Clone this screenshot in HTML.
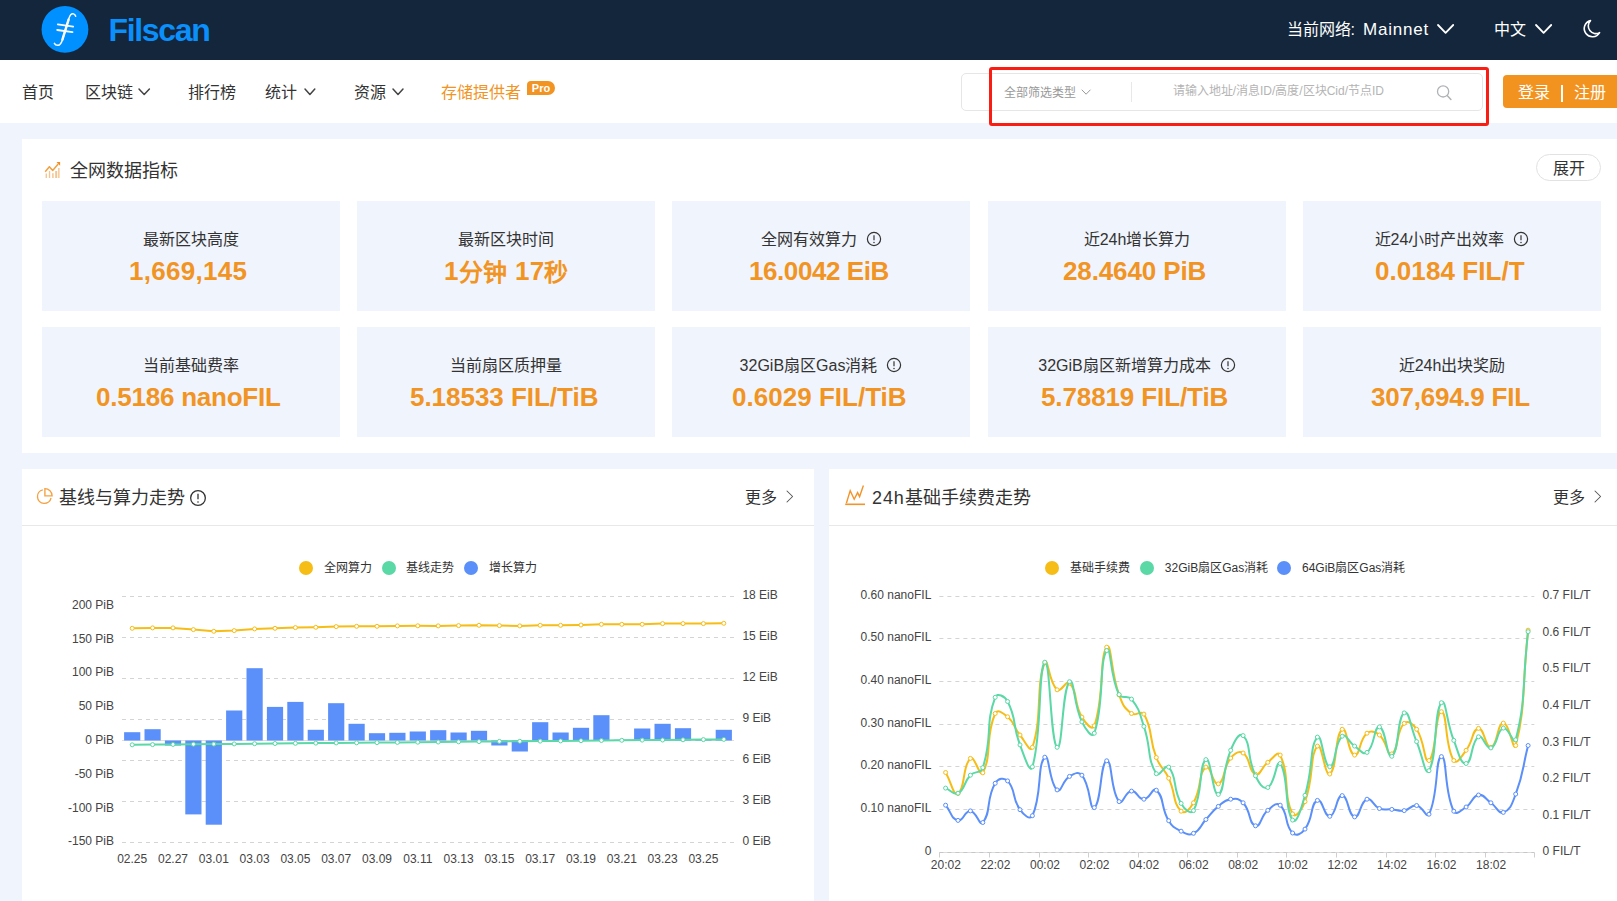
<!DOCTYPE html>
<html lang="zh-CN"><head><meta charset="utf-8"><title>Filscan</title>
<style>
html,body{margin:0;padding:0}
body{width:1617px;height:901px;overflow:hidden;background:#f0f4fc;font-family:"Liberation Sans",sans-serif;position:relative;color:#333}
.a{position:absolute}
.t{position:absolute;white-space:nowrap;line-height:24px;height:24px}
.hdr{position:absolute;left:0;top:0;width:1617px;height:60px;background:#13263c}
.nav{position:absolute;left:0;top:60px;width:1617px;height:63px;background:#fff}
.panel{position:absolute;background:#fff}
.card{position:absolute;background:#f0f4fc;width:298px;height:110px}
.card .lb{position:absolute;left:0;right:0;top:27.1px;height:24px;line-height:24px;font-size:16px;color:#333;display:flex;justify-content:center;align-items:center;white-space:nowrap}
.card .lb svg{margin-left:9px;flex:none;position:relative;top:-1.6px}
.card .v{position:absolute;top:54.4px;height:32px;line-height:32px;font-size:26px;font-weight:bold;color:#f29423;white-space:nowrap}
</style></head><body>
<div class="hdr"></div><svg class="a" style="left:41px;top:5px" width="49" height="49" viewBox="0 0 49 49">
<circle cx="23.96" cy="24.4" r="23.4" fill="#0090ff"/>
<g fill="none" stroke="#fff" stroke-linecap="round">
<path d="M34.7,11.3 C33.9,8.7 31.4,8.0 29.7,9.7 C28.3,11.1 27.8,13.6 27.2,15.8 L21.9,33.2 C20.8,37.2 19.5,40.5 16.7,40.3 C15,40.2 13.9,39.3 13.4,38.3" stroke-width="1.5"/>
<path d="M27.6,14.6 L21.4,34.6" stroke-width="2.4"/>
<path d="M16.8,19.4 L32.2,21.6 M16.2,25.0 L31.5,27.2" stroke-width="1.8"/>
</g></svg><div class="t " style="left:108.5px;top:17.9px;font-size:32px;color:#0a8ffb;font-weight:bold;letter-spacing:-1.33px;">Filscan</div><div class="t " style="left:1286.5px;top:18.0px;font-size:16px;color:#fff;">当前网络:</div><div class="t " style="left:1363.0px;top:18.2px;font-size:17px;color:#fff;letter-spacing:0.77px;">Mainnet</div><svg class="a" style="left:1436.2px;top:23.0px" width="19.2" height="11.8"><path d="M2,2 L9.60,9.80 L17.20,2" fill="none" stroke="#fff" stroke-width="1.8" stroke-linecap="round" stroke-linejoin="round"/></svg><div class="t " style="left:1494.0px;top:18.0px;font-size:16px;color:#fff;">中文</div><svg class="a" style="left:1534.2px;top:23.0px" width="19.2" height="11.8"><path d="M2,2 L9.60,9.80 L17.20,2" fill="none" stroke="#fff" stroke-width="1.8" stroke-linecap="round" stroke-linejoin="round"/></svg><svg class="a" style="left:1580px;top:18px" width="22" height="22" viewBox="0 0 22 22"><path d="M10.5,2.6 A8.2,8.2 0 1 0 19.6,14.6 A7.6,7.6 0 0 1 10.5,2.6 Z" fill="none" stroke="#fff" stroke-width="1.6" stroke-linejoin="round"/></svg><div class="nav"></div><div class="t " style="left:22.0px;top:81.0px;font-size:16px;color:#333;">首页</div><div class="t " style="left:84.5px;top:81.0px;font-size:16px;color:#333;">区块链</div><svg class="a" style="left:137.0px;top:86.8px" width="14.4" height="9.5"><path d="M2,2 L7.20,7.50 L12.40,2" fill="none" stroke="#444" stroke-width="1.5" stroke-linecap="round" stroke-linejoin="round"/></svg><div class="t " style="left:187.6px;top:81.0px;font-size:16px;color:#333;">排行榜</div><div class="t " style="left:265.0px;top:81.0px;font-size:16px;color:#333;">统计</div><svg class="a" style="left:303.0px;top:86.8px" width="13.8" height="9.5"><path d="M2,2 L6.90,7.50 L11.80,2" fill="none" stroke="#444" stroke-width="1.5" stroke-linecap="round" stroke-linejoin="round"/></svg><div class="t " style="left:353.6px;top:81.0px;font-size:16px;color:#333;">资源</div><svg class="a" style="left:391.0px;top:86.8px" width="14.0" height="9.5"><path d="M2,2 L7.00,7.50 L12.00,2" fill="none" stroke="#444" stroke-width="1.5" stroke-linecap="round" stroke-linejoin="round"/></svg><div class="t " style="left:441.0px;top:81.0px;font-size:16px;color:#f29423;">存储提供者</div><div class="a" style="left:527px;top:81px;width:28px;height:14px;background:#f29423;border-radius:4px 7px 7px 0;color:#fff;font-size:11px;font-weight:bold;line-height:14px;text-align:center">Pro</div><div class="a" style="left:961px;top:73px;width:520px;height:36px;border:1px solid #e6e6e6;border-radius:5px;background:#fff"></div><div class="t " style="left:1004.0px;top:80.9px;font-size:12px;color:#999;">全部筛选类型</div><svg class="a" style="left:1079.6px;top:88.2px" width="12.2" height="8.2"><path d="M2,2 L6.10,6.20 L10.20,2" fill="none" stroke="#999" stroke-width="1.0" stroke-linecap="round" stroke-linejoin="round"/></svg><div class="a" style="left:1131px;top:82px;width:1px;height:20px;background:#e8e8e8"></div><div class="t " style="left:1172.7px;top:79.3px;font-size:12px;color:#b4b4b4;">请输入地址/消息ID/高度/区块Cid/节点ID</div><svg class="a" style="left:1435px;top:82.8px" width="19" height="19" viewBox="0 0 19 19"><circle cx="8.1" cy="8.4" r="5.6" fill="none" stroke="#b0b2b6" stroke-width="1.3"/><path d="M12.2,12.6 L15.9,16.4" stroke="#b0b2b6" stroke-width="1.5" stroke-linecap="round"/></svg><div class="a" style="left:989px;top:67px;width:493.5px;height:53px;border:3px solid #fa1d13;border-radius:3px"></div><div class="a" style="left:1503px;top:75px;width:130px;height:33px;background:#f2931f;border-radius:4px"></div><div class="t " style="left:1518.0px;top:81.0px;font-size:16px;color:#fff;">登录</div><div class="a" style="left:1561.2px;top:85px;width:2px;height:16.5px;background:#fff"></div><div class="t " style="left:1574.0px;top:81.0px;font-size:16px;color:#fff;">注册</div><div class="panel" style="left:22px;top:139px;width:1620px;height:314px"></div><svg class="a" style="left:44px;top:161px" width="18" height="18" viewBox="0 0 18 18">
<g fill="#f4c590"><rect x="1.6" y="12.5" width="1.35" height="4.5"/><rect x="4.85" y="10" width="1.35" height="7"/><rect x="8.15" y="12.2" width="1.5" height="4.8"/><rect x="11.2" y="10" width="2" height="7"/><rect x="14.15" y="7" width="1.4" height="10"/></g>
<path d="M1.2,10.7 L5.35,5.7 L8.7,9.5 L14.2,2.9" fill="none" stroke="#f3a041" stroke-width="1.5" stroke-linejoin="round"/>
<path d="M12.5,1.1 H16.1 V4.8 Z" fill="#f28a1e"/></svg><div class="t " style="left:69.7px;top:159.4px;font-size:18px;color:#333;">全网数据指标</div><div class="a" style="left:1536px;top:154px;width:63px;height:25px;border:1px solid #e2e2e2;border-radius:14px;background:#fff"></div><div class="t " style="left:1552.6px;top:156.6px;font-size:16px;color:#333;">展开</div><div class="card" style="left:42px;top:201px"><div class="lb">最新区块高度</div><div class="v" style="left:87.0px;letter-spacing:0.28px">1,669,145</div></div><div class="card" style="left:357px;top:201px"><div class="lb">最新区块时间</div><div class="v" style="left:87.0px;letter-spacing:0.30px">1<span style="font-size:24px;position:relative;top:0.8px">分钟</span> 17<span style="font-size:24px;position:relative;top:0.8px">秒</span></div></div><div class="card" style="left:672px;top:201px"><div class="lb">全网有效算力<svg width="16" height="16" viewBox="-8 -8 16 16"><circle r="6.6" fill="none" stroke="#333" stroke-width="1.2"/><path d="M0,-3.8 L0,1.2" stroke="#333" stroke-width="1.2" fill="none"/><circle cy="3.6" r="0.75" fill="#333"/></svg></div><div class="v" style="left:77.0px;letter-spacing:-0.43px">16.0042 EiB</div></div><div class="card" style="left:988px;top:201px"><div class="lb">近24h增长算力</div><div class="v" style="left:75.0px;letter-spacing:-0.13px">28.4640 PiB</div></div><div class="card" style="left:1303px;top:201px"><div class="lb">近24小时产出效率<svg width="16" height="16" viewBox="-8 -8 16 16"><circle r="6.6" fill="none" stroke="#333" stroke-width="1.2"/><path d="M0,-3.8 L0,1.2" stroke="#333" stroke-width="1.2" fill="none"/><circle cy="3.6" r="0.75" fill="#333"/></svg></div><div class="v" style="left:72.0px;letter-spacing:0.07px">0.0184 FIL/T</div></div><div class="card" style="left:42px;top:327px"><div class="lb">当前基础费率</div><div class="v" style="left:54.0px;letter-spacing:-0.23px">0.5186 nanoFIL</div></div><div class="card" style="left:357px;top:327px"><div class="lb">当前扇区质押量</div><div class="v" style="left:53.0px;letter-spacing:-0.03px">5.18533 FIL/TiB</div></div><div class="card" style="left:672px;top:327px"><div class="lb">32GiB扇区Gas消耗<svg width="16" height="16" viewBox="-8 -8 16 16"><circle r="6.6" fill="none" stroke="#333" stroke-width="1.2"/><path d="M0,-3.8 L0,1.2" stroke="#333" stroke-width="1.2" fill="none"/><circle cy="3.6" r="0.75" fill="#333"/></svg></div><div class="v" style="left:60.0px;letter-spacing:0.02px">0.6029 FIL/TiB</div></div><div class="card" style="left:988px;top:327px"><div class="lb">32GiB扇区新增算力成本<svg width="16" height="16" viewBox="-8 -8 16 16"><circle r="6.6" fill="none" stroke="#333" stroke-width="1.2"/><path d="M0,-3.8 L0,1.2" stroke="#333" stroke-width="1.2" fill="none"/><circle cy="3.6" r="0.75" fill="#333"/></svg></div><div class="v" style="left:53.0px;letter-spacing:-0.11px">5.78819 FIL/TiB</div></div><div class="card" style="left:1303px;top:327px"><div class="lb">近24h出块奖励</div><div class="v" style="left:68.0px;letter-spacing:-0.23px">307,694.9 FIL</div></div><div class="panel" style="left:22px;top:469px;width:792px;height:440px"></div><div class="panel" style="left:829px;top:469px;width:800px;height:440px"></div><div class="a" style="left:22px;top:525px;width:792px;height:1px;background:#e8e8e8"></div><div class="a" style="left:829px;top:525px;width:800px;height:1px;background:#e8e8e8"></div><svg class="a" style="left:36px;top:487px" width="18" height="18" viewBox="0 0 18 18"><g fill="none" stroke="#f5a140" stroke-width="1.35">
<path d="M6.83,2.89 A6.85,6.85 0 1 0 15.03,11.0"/><path d="M8.9,1.63 A7.2,7.2 0 0 1 16.1,8.83 H8.9 Z" stroke-linejoin="miter"/></g></svg><div class="t " style="left:58.8px;top:486.3px;font-size:18px;color:#333;">基线与算力走势</div><svg class="a" style="left:188.6px;top:488.5px" width="18" height="18" viewBox="-9.0 -9.0 18 18"><circle r="7.35" fill="none" stroke="#333" stroke-width="1.3"/><path d="M0,-4.16 L0,1.28" stroke="#333" stroke-width="1.3" fill="none"/><circle cy="4.00" r="0.81" fill="#333"/></svg><div class="t " style="left:745.0px;top:486.0px;font-size:16px;color:#333;">更多</div><svg class="a" style="left:785.2px;top:489.1px" width="9.6" height="15.0"><path d="M2,2 L7.60,7.50 L2,13.00" fill="none" stroke="#555" stroke-width="1.05" stroke-linecap="round" stroke-linejoin="round"/></svg><svg class="a" style="left:844px;top:484px" width="22" height="22" viewBox="0 0 22 22"><g fill="none" stroke="#f2942a" stroke-width="1.4" stroke-linejoin="miter">
<path d="M2.4,19.2 L6.2,6.6 L10.2,15.2 L13.6,8.6 L15.6,12.6 L19.4,1.6"/><path d="M1.2,20.3 H21" stroke-width="1.6"/></g></svg><div class="t " style="left:872.0px;top:486.3px;font-size:18px;color:#333;"><span style="letter-spacing:0.9px">24h</span>基础手续费走势</div><div class="t " style="left:1552.6px;top:486.0px;font-size:16px;color:#333;">更多</div><svg class="a" style="left:1593.0px;top:489.1px" width="9.6" height="15.0"><path d="M2,2 L7.60,7.50 L2,13.00" fill="none" stroke="#555" stroke-width="1.05" stroke-linecap="round" stroke-linejoin="round"/></svg><div class="a" style="left:299.0px;top:560.7px;width:14px;height:14px;border-radius:7px;background:#f6bd16"></div><div class="t " style="left:324.0px;top:555.5px;font-size:12px;color:#333;">全网算力</div><div class="a" style="left:381.8px;top:560.7px;width:14px;height:14px;border-radius:7px;background:#5ad8a6"></div><div class="t " style="left:406.3px;top:555.5px;font-size:12px;color:#333;">基线走势</div><div class="a" style="left:464.4px;top:560.7px;width:14px;height:14px;border-radius:7px;background:#5b8ff9"></div><div class="t " style="left:489.0px;top:555.5px;font-size:12px;color:#333;">增长算力</div><svg class="a" style="left:0;top:580px" width="1617" height="321" viewBox="0 580 1617 321">
<path d="M122,596.5 H734" stroke="#d4d4d4" stroke-width="1" stroke-dasharray="4 4" fill="none"/>
<path d="M122,637.5 H734" stroke="#d4d4d4" stroke-width="1" stroke-dasharray="4 4" fill="none"/>
<path d="M122,678.5 H734" stroke="#d4d4d4" stroke-width="1" stroke-dasharray="4 4" fill="none"/>
<path d="M122,719.5 H734" stroke="#d4d4d4" stroke-width="1" stroke-dasharray="4 4" fill="none"/>
<path d="M122,760.5 H734" stroke="#d4d4d4" stroke-width="1" stroke-dasharray="4 4" fill="none"/>
<path d="M122,801.5 H734" stroke="#d4d4d4" stroke-width="1" stroke-dasharray="4 4" fill="none"/>
<path d="M122,842.5 H734" stroke="#d4d4d4" stroke-width="1" stroke-dasharray="4 4" fill="none"/>
<path d="M122,740.5 H734" stroke="#dedede" stroke-width="1" fill="none"/>
<rect x="124.1" y="732.2" width="16.2" height="8.3" fill="#5b8ff9"/>
<rect x="144.5" y="729.2" width="16.2" height="11.3" fill="#5b8ff9"/>
<rect x="164.9" y="740.5" width="16.2" height="5.0" fill="#5b8ff9"/>
<rect x="185.3" y="740.5" width="16.2" height="73.9" fill="#5b8ff9"/>
<rect x="205.7" y="740.5" width="16.2" height="84.2" fill="#5b8ff9"/>
<rect x="226.1" y="710.5" width="16.2" height="30.0" fill="#5b8ff9"/>
<rect x="246.5" y="668.2" width="16.2" height="72.3" fill="#5b8ff9"/>
<rect x="266.9" y="706.9" width="16.2" height="33.6" fill="#5b8ff9"/>
<rect x="287.3" y="701.9" width="16.2" height="38.6" fill="#5b8ff9"/>
<rect x="307.7" y="729.8" width="16.2" height="10.7" fill="#5b8ff9"/>
<rect x="328.1" y="703.2" width="16.2" height="37.3" fill="#5b8ff9"/>
<rect x="348.5" y="723.8" width="16.2" height="16.7" fill="#5b8ff9"/>
<rect x="368.9" y="733.2" width="16.2" height="7.3" fill="#5b8ff9"/>
<rect x="389.3" y="732.8" width="16.2" height="7.7" fill="#5b8ff9"/>
<rect x="409.7" y="731.5" width="16.2" height="9.0" fill="#5b8ff9"/>
<rect x="430.1" y="730.2" width="16.2" height="10.3" fill="#5b8ff9"/>
<rect x="450.5" y="732.5" width="16.2" height="8.0" fill="#5b8ff9"/>
<rect x="470.9" y="730.8" width="16.2" height="9.7" fill="#5b8ff9"/>
<rect x="491.3" y="740.5" width="16.2" height="5.0" fill="#5b8ff9"/>
<rect x="511.7" y="740.5" width="16.2" height="11.0" fill="#5b8ff9"/>
<rect x="532.1" y="722.2" width="16.2" height="18.3" fill="#5b8ff9"/>
<rect x="552.5" y="732.5" width="16.2" height="8.0" fill="#5b8ff9"/>
<rect x="572.9" y="727.8" width="16.2" height="12.7" fill="#5b8ff9"/>
<rect x="593.3" y="715.2" width="16.2" height="25.3" fill="#5b8ff9"/>
<rect x="613.7" y="739.8" width="16.2" height="0.7" fill="#5b8ff9"/>
<rect x="634.1" y="728.5" width="16.2" height="12.0" fill="#5b8ff9"/>
<rect x="654.5" y="723.8" width="16.2" height="16.7" fill="#5b8ff9"/>
<rect x="674.9" y="728.2" width="16.2" height="12.3" fill="#5b8ff9"/>
<rect x="695.3" y="739.6" width="16.2" height="0.9" fill="#5b8ff9"/>
<rect x="715.7" y="729.8" width="16.2" height="10.7" fill="#5b8ff9"/>
<path d="M132.2,744.8 L152.6,744.6 L173.0,744.4 L193.4,744.2 L213.8,744.1 L234.2,743.9 L254.6,743.7 L275.0,743.5 L295.4,743.3 L315.8,743.1 L336.2,742.9 L356.6,742.8 L377.0,742.6 L397.4,742.4 L417.8,742.2 L438.2,742.0 L458.6,741.8 L479.0,741.6 L499.4,741.4 L519.8,741.3 L540.2,741.1 L560.6,740.9 L581.0,740.7 L601.4,740.5 L621.8,740.3 L642.2,740.1 L662.6,740.0 L683.0,739.8 L703.4,739.6 L723.8,739.4" fill="none" stroke="#5ad8a6" stroke-width="2" stroke-linejoin="round"/>
<g fill="#fff" stroke="#5ad8a6" stroke-width="1"><circle cx="132.2" cy="744.8" r="2"/><circle cx="152.6" cy="744.6" r="2"/><circle cx="173.0" cy="744.4" r="2"/><circle cx="193.4" cy="744.2" r="2"/><circle cx="213.8" cy="744.1" r="2"/><circle cx="234.2" cy="743.9" r="2"/><circle cx="254.6" cy="743.7" r="2"/><circle cx="275.0" cy="743.5" r="2"/><circle cx="295.4" cy="743.3" r="2"/><circle cx="315.8" cy="743.1" r="2"/><circle cx="336.2" cy="742.9" r="2"/><circle cx="356.6" cy="742.8" r="2"/><circle cx="377.0" cy="742.6" r="2"/><circle cx="397.4" cy="742.4" r="2"/><circle cx="417.8" cy="742.2" r="2"/><circle cx="438.2" cy="742.0" r="2"/><circle cx="458.6" cy="741.8" r="2"/><circle cx="479.0" cy="741.6" r="2"/><circle cx="499.4" cy="741.4" r="2"/><circle cx="519.8" cy="741.3" r="2"/><circle cx="540.2" cy="741.1" r="2"/><circle cx="560.6" cy="740.9" r="2"/><circle cx="581.0" cy="740.7" r="2"/><circle cx="601.4" cy="740.5" r="2"/><circle cx="621.8" cy="740.3" r="2"/><circle cx="642.2" cy="740.1" r="2"/><circle cx="662.6" cy="740.0" r="2"/><circle cx="683.0" cy="739.8" r="2"/><circle cx="703.4" cy="739.6" r="2"/><circle cx="723.8" cy="739.4" r="2"/></g>
<path d="M132.2,628.3 L152.6,627.9 L173.0,627.9 L193.4,629.6 L213.8,631.3 L234.2,630.6 L254.6,628.9 L275.0,628.3 L295.4,627.6 L315.8,627.3 L336.2,626.6 L356.6,626.3 L377.0,626.3 L397.4,625.9 L417.8,625.8 L438.2,625.9 L458.6,625.6 L479.0,625.3 L499.4,625.6 L519.8,625.9 L540.2,625.3 L560.6,625.3 L581.0,625.0 L601.4,624.3 L621.8,624.3 L642.2,624.3 L662.6,623.6 L683.0,623.6 L703.4,623.6 L723.8,623.3" fill="none" stroke="#f6bd16" stroke-width="2" stroke-linejoin="round"/>
<g fill="#fff" stroke="#f6bd16" stroke-width="1"><circle cx="132.2" cy="628.3" r="2"/><circle cx="152.6" cy="627.9" r="2"/><circle cx="173.0" cy="627.9" r="2"/><circle cx="193.4" cy="629.6" r="2"/><circle cx="213.8" cy="631.3" r="2"/><circle cx="234.2" cy="630.6" r="2"/><circle cx="254.6" cy="628.9" r="2"/><circle cx="275.0" cy="628.3" r="2"/><circle cx="295.4" cy="627.6" r="2"/><circle cx="315.8" cy="627.3" r="2"/><circle cx="336.2" cy="626.6" r="2"/><circle cx="356.6" cy="626.3" r="2"/><circle cx="377.0" cy="626.3" r="2"/><circle cx="397.4" cy="625.9" r="2"/><circle cx="417.8" cy="625.8" r="2"/><circle cx="438.2" cy="625.9" r="2"/><circle cx="458.6" cy="625.6" r="2"/><circle cx="479.0" cy="625.3" r="2"/><circle cx="499.4" cy="625.6" r="2"/><circle cx="519.8" cy="625.9" r="2"/><circle cx="540.2" cy="625.3" r="2"/><circle cx="560.6" cy="625.3" r="2"/><circle cx="581.0" cy="625.0" r="2"/><circle cx="601.4" cy="624.3" r="2"/><circle cx="621.8" cy="624.3" r="2"/><circle cx="642.2" cy="624.3" r="2"/><circle cx="662.6" cy="623.6" r="2"/><circle cx="683.0" cy="623.6" r="2"/><circle cx="703.4" cy="623.6" r="2"/><circle cx="723.8" cy="623.3" r="2"/></g>
<path d="M939.4,596.5 H1534.3" stroke="#d4d4d4" stroke-width="1" stroke-dasharray="4 4" fill="none"/>
<path d="M939.4,638.5 H1534.3" stroke="#d4d4d4" stroke-width="1" stroke-dasharray="4 4" fill="none"/>
<path d="M939.4,681.5 H1534.3" stroke="#d4d4d4" stroke-width="1" stroke-dasharray="4 4" fill="none"/>
<path d="M939.4,724.5 H1534.3" stroke="#d4d4d4" stroke-width="1" stroke-dasharray="4 4" fill="none"/>
<path d="M939.4,766.5 H1534.3" stroke="#d4d4d4" stroke-width="1" stroke-dasharray="4 4" fill="none"/>
<path d="M939.4,809.5 H1534.3" stroke="#d4d4d4" stroke-width="1" stroke-dasharray="4 4" fill="none"/>
<path d="M939.4,852.5 H1534.3" stroke="#dcdcdc" stroke-width="1" fill="none"/>
<path d="M939.4,852.5 H1534.3" stroke="#c6c6c6" stroke-width="1" stroke-dasharray="4 4" fill="none"/>
<path d="M939.5,852.5 v5M989.5,852.5 v5M1039.5,852.5 v5M1088.5,852.5 v5M1138.5,852.5 v5M1187.5,852.5 v5M1237.5,852.5 v5M1286.5,852.5 v5M1336.5,852.5 v5M1386.5,852.5 v5M1435.5,852.5 v5M1485.5,852.5 v5M1534.5,852.5 v5" stroke="#cfcfcf" stroke-width="1" fill="none"/>
<path d="M945.6,772.5C951.8,783.0 953.1,796.3 958.0,793.5C965.5,789.2 962.2,765.3 970.4,758.4C974.6,754.9 979.8,778.2 982.8,772.8C992.2,755.7 984.9,736.6 995.2,713.5C997.3,708.6 1003.0,712.8 1007.6,716.8C1015.4,723.6 1013.0,726.5 1020.0,735.0C1025.4,741.8 1030.3,753.5 1032.4,747.3C1042.6,717.3 1035.6,684.2 1044.8,662.8C1047.9,655.4 1048.7,682.9 1057.1,689.8C1061.1,693.1 1066.1,679.4 1069.5,683.2C1078.5,693.0 1073.2,702.1 1081.9,717.1C1085.6,723.4 1092.3,731.3 1094.3,725.8C1104.7,696.4 1099.1,656.8 1106.7,647.2C1111.5,641.3 1110.6,672.1 1119.1,694.9C1123.0,705.2 1123.5,707.3 1131.5,713.5C1135.9,716.9 1141.2,709.3 1143.9,714.1C1153.6,731.3 1148.2,736.6 1156.3,757.5C1160.6,768.7 1163.7,767.3 1168.7,778.2C1176.0,794.1 1172.4,802.5 1181.1,811.2C1184.8,814.8 1190.0,809.0 1193.5,802.8C1202.4,787.0 1197.9,773.2 1205.9,767.1C1210.3,763.7 1213.0,785.8 1218.3,783.9C1225.4,781.3 1222.2,768.6 1230.7,758.1C1234.6,753.2 1238.7,750.2 1243.1,753.0C1251.1,758.3 1248.2,771.6 1255.5,774.3C1260.6,776.2 1261.1,767.5 1267.8,762.3C1273.5,758.0 1277.8,750.2 1280.2,755.1C1290.2,775.9 1283.0,795.9 1292.6,813.9C1295.4,819.1 1302.1,809.5 1305.0,801.6C1314.5,775.7 1309.4,755.1 1317.4,746.1C1321.7,741.3 1324.9,777.3 1329.8,774.0C1337.3,768.9 1334.5,735.2 1342.2,729.3C1346.9,725.7 1348.0,754.1 1354.6,755.1C1360.4,756.0 1358.7,739.9 1367.0,733.2C1371.1,729.9 1375.0,731.4 1379.4,735.0C1387.4,741.7 1386.7,756.3 1391.8,753.9C1399.1,750.5 1395.4,732.0 1404.2,723.4C1407.8,719.7 1413.0,723.9 1416.6,729.3C1425.4,742.5 1424.0,764.0 1429.0,760.5C1436.4,755.2 1435.2,711.7 1441.4,711.7C1447.6,711.7 1444.4,745.9 1453.8,760.5C1456.7,765.2 1461.3,756.6 1466.1,750.3C1473.7,740.5 1472.0,729.2 1478.5,728.4C1484.4,727.7 1485.3,748.5 1490.9,747.3C1497.7,745.9 1496.9,723.5 1503.3,723.1C1509.3,722.6 1513.5,753.9 1515.7,745.5C1525.9,707.5 1521.9,687.8 1528.1,630.2" fill="none" stroke="#f6bd16" stroke-width="2" stroke-linejoin="round"/>
<g fill="#fff" stroke="#f6bd16" stroke-width="1"><circle cx="945.6" cy="772.5" r="2"/><circle cx="958.0" cy="793.5" r="2"/><circle cx="970.4" cy="758.4" r="2"/><circle cx="982.8" cy="772.8" r="2"/><circle cx="995.2" cy="713.5" r="2"/><circle cx="1007.6" cy="716.8" r="2"/><circle cx="1020.0" cy="735.0" r="2"/><circle cx="1032.4" cy="747.3" r="2"/><circle cx="1044.8" cy="662.8" r="2"/><circle cx="1057.1" cy="689.8" r="2"/><circle cx="1069.5" cy="683.2" r="2"/><circle cx="1081.9" cy="717.1" r="2"/><circle cx="1094.3" cy="725.8" r="2"/><circle cx="1106.7" cy="647.2" r="2"/><circle cx="1119.1" cy="694.9" r="2"/><circle cx="1131.5" cy="713.5" r="2"/><circle cx="1143.9" cy="714.1" r="2"/><circle cx="1156.3" cy="757.5" r="2"/><circle cx="1168.7" cy="778.2" r="2"/><circle cx="1181.1" cy="811.2" r="2"/><circle cx="1193.5" cy="802.8" r="2"/><circle cx="1205.9" cy="767.1" r="2"/><circle cx="1218.3" cy="783.9" r="2"/><circle cx="1230.7" cy="758.1" r="2"/><circle cx="1243.1" cy="753.0" r="2"/><circle cx="1255.5" cy="774.3" r="2"/><circle cx="1267.8" cy="762.3" r="2"/><circle cx="1280.2" cy="755.1" r="2"/><circle cx="1292.6" cy="813.9" r="2"/><circle cx="1305.0" cy="801.6" r="2"/><circle cx="1317.4" cy="746.1" r="2"/><circle cx="1329.8" cy="774.0" r="2"/><circle cx="1342.2" cy="729.3" r="2"/><circle cx="1354.6" cy="755.1" r="2"/><circle cx="1367.0" cy="733.2" r="2"/><circle cx="1379.4" cy="735.0" r="2"/><circle cx="1391.8" cy="753.9" r="2"/><circle cx="1404.2" cy="723.4" r="2"/><circle cx="1416.6" cy="729.3" r="2"/><circle cx="1429.0" cy="760.5" r="2"/><circle cx="1441.4" cy="711.7" r="2"/><circle cx="1453.8" cy="760.5" r="2"/><circle cx="1466.1" cy="750.3" r="2"/><circle cx="1478.5" cy="728.4" r="2"/><circle cx="1490.9" cy="747.3" r="2"/><circle cx="1503.3" cy="723.1" r="2"/><circle cx="1515.7" cy="745.5" r="2"/><circle cx="1528.1" cy="630.2" r="2"/></g>
<path d="M945.6,788.1C951.8,790.6 953.3,795.6 958.0,793.2C965.7,789.2 962.9,782.9 970.4,775.2C975.3,770.1 980.7,774.3 982.8,767.7C993.1,735.3 984.7,725.3 995.2,697.3C997.1,692.2 1004.8,696.1 1007.6,701.5C1017.2,720.0 1012.0,723.9 1020.0,744.9C1024.4,756.6 1030.0,774.8 1032.4,766.8C1042.4,733.4 1037.9,667.6 1044.8,662.2C1050.3,657.8 1050.2,741.8 1057.1,747.3C1062.6,751.6 1061.9,689.5 1069.5,681.7C1074.3,676.8 1073.1,703.5 1081.9,721.9C1085.5,729.2 1092.3,739.2 1094.3,733.2C1104.6,703.6 1098.7,663.0 1106.7,650.5C1111.1,643.7 1109.5,675.7 1119.1,694.6C1121.9,700.0 1127.7,694.2 1131.5,699.1C1140.1,710.1 1139.2,712.2 1143.9,726.4C1151.6,749.5 1146.7,757.9 1156.3,773.7C1159.1,778.2 1165.4,763.1 1168.7,767.1C1177.8,778.0 1172.1,787.6 1181.1,803.4C1184.5,809.3 1190.8,815.3 1193.5,810.6C1203.2,793.4 1198.6,764.4 1205.9,759.6C1211.0,756.3 1212.7,796.4 1218.3,794.4C1225.1,791.8 1221.9,771.0 1230.7,750.3C1234.3,741.6 1239.2,731.6 1243.1,735.6C1251.6,744.4 1246.6,757.4 1255.5,775.8C1259.0,783.3 1263.0,789.9 1267.8,787.5C1275.4,783.7 1276.3,758.3 1280.2,763.5C1288.7,774.7 1284.3,809.4 1292.6,820.1C1296.6,825.3 1301.1,808.5 1305.0,795.3C1313.5,767.0 1309.4,746.4 1317.4,737.1C1321.8,732.1 1323.7,767.0 1329.8,766.8C1336.1,766.6 1333.8,743.2 1342.2,736.2C1346.2,732.9 1348.0,741.8 1354.6,746.1C1360.4,749.9 1362.9,755.6 1367.0,752.4C1375.3,746.0 1373.6,726.0 1379.4,726.9C1386.0,728.0 1386.7,759.2 1391.8,756.3C1399.1,752.2 1396.9,717.2 1404.2,712.9C1409.3,709.9 1410.4,727.2 1416.6,741.6C1422.8,756.2 1425.1,776.8 1429.0,770.7C1437.5,757.3 1433.5,712.3 1441.4,702.7C1445.9,697.2 1446.3,722.1 1453.8,740.4C1458.7,752.5 1460.3,764.4 1466.1,763.5C1472.7,762.6 1470.6,741.8 1478.5,736.8C1483.0,734.0 1485.8,749.7 1490.9,747.9C1498.2,745.4 1496.2,730.5 1503.3,728.1C1508.6,726.4 1514.0,746.4 1515.7,739.8C1526.4,698.1 1521.9,685.7 1528.1,631.7" fill="none" stroke="#5ad8a6" stroke-width="2" stroke-linejoin="round"/>
<g fill="#fff" stroke="#5ad8a6" stroke-width="1"><circle cx="945.6" cy="788.1" r="2"/><circle cx="958.0" cy="793.2" r="2"/><circle cx="970.4" cy="775.2" r="2"/><circle cx="982.8" cy="767.7" r="2"/><circle cx="995.2" cy="697.3" r="2"/><circle cx="1007.6" cy="701.5" r="2"/><circle cx="1020.0" cy="744.9" r="2"/><circle cx="1032.4" cy="766.8" r="2"/><circle cx="1044.8" cy="662.2" r="2"/><circle cx="1057.1" cy="747.3" r="2"/><circle cx="1069.5" cy="681.7" r="2"/><circle cx="1081.9" cy="721.9" r="2"/><circle cx="1094.3" cy="733.2" r="2"/><circle cx="1106.7" cy="650.5" r="2"/><circle cx="1119.1" cy="694.6" r="2"/><circle cx="1131.5" cy="699.1" r="2"/><circle cx="1143.9" cy="726.4" r="2"/><circle cx="1156.3" cy="773.7" r="2"/><circle cx="1168.7" cy="767.1" r="2"/><circle cx="1181.1" cy="803.4" r="2"/><circle cx="1193.5" cy="810.6" r="2"/><circle cx="1205.9" cy="759.6" r="2"/><circle cx="1218.3" cy="794.4" r="2"/><circle cx="1230.7" cy="750.3" r="2"/><circle cx="1243.1" cy="735.6" r="2"/><circle cx="1255.5" cy="775.8" r="2"/><circle cx="1267.8" cy="787.5" r="2"/><circle cx="1280.2" cy="763.5" r="2"/><circle cx="1292.6" cy="820.1" r="2"/><circle cx="1305.0" cy="795.3" r="2"/><circle cx="1317.4" cy="737.1" r="2"/><circle cx="1329.8" cy="766.8" r="2"/><circle cx="1342.2" cy="736.2" r="2"/><circle cx="1354.6" cy="746.1" r="2"/><circle cx="1367.0" cy="752.4" r="2"/><circle cx="1379.4" cy="726.9" r="2"/><circle cx="1391.8" cy="756.3" r="2"/><circle cx="1404.2" cy="712.9" r="2"/><circle cx="1416.6" cy="741.6" r="2"/><circle cx="1429.0" cy="770.7" r="2"/><circle cx="1441.4" cy="702.7" r="2"/><circle cx="1453.8" cy="740.4" r="2"/><circle cx="1466.1" cy="763.5" r="2"/><circle cx="1478.5" cy="736.8" r="2"/><circle cx="1490.9" cy="747.9" r="2"/><circle cx="1503.3" cy="728.1" r="2"/><circle cx="1515.7" cy="739.8" r="2"/><circle cx="1528.1" cy="631.7" r="2"/></g>
<path d="M945.6,805.2C951.8,812.8 951.1,818.9 958.0,820.4C963.5,821.7 964.4,810.4 970.4,810.9C976.8,811.4 979.2,826.6 982.8,822.5C991.5,812.8 985.7,799.2 995.2,783.3C998.1,778.4 1004.0,777.1 1007.6,780.9C1016.4,790.3 1011.4,797.6 1020.0,809.7C1023.7,815.0 1030.0,820.6 1032.4,815.7C1042.4,794.3 1036.9,765.3 1044.8,757.2C1049.3,752.5 1049.0,783.6 1057.1,789.9C1061.4,793.2 1062.2,780.8 1069.5,776.4C1074.6,773.4 1078.7,771.1 1081.9,775.2C1091.1,786.7 1089.2,810.6 1094.3,807.6C1101.5,803.4 1100.1,762.4 1106.7,760.8C1112.5,759.4 1110.1,790.6 1119.1,801.6C1122.5,805.7 1125.0,791.7 1131.5,791.1C1137.4,790.5 1137.8,799.4 1143.9,799.2C1150.2,798.9 1152.4,786.8 1156.3,790.2C1164.8,797.5 1160.4,807.0 1168.7,820.7C1172.8,827.5 1174.1,827.7 1181.1,831.2C1186.5,834.0 1188.5,835.7 1193.5,833.3C1200.9,829.9 1199.6,826.4 1205.9,819.5C1212.0,812.9 1211.4,812.0 1218.3,806.4C1223.7,801.9 1224.1,800.1 1230.7,799.2C1236.5,798.3 1239.0,798.4 1243.1,802.8C1251.4,811.7 1248.4,823.7 1255.5,825.8C1260.8,827.5 1260.4,816.4 1267.8,810.3C1272.8,806.1 1276.5,801.7 1280.2,805.2C1288.8,813.1 1283.9,824.6 1292.6,833.0C1296.3,836.6 1301.4,833.9 1305.0,829.1C1313.8,817.6 1309.9,804.3 1317.4,800.4C1322.3,797.8 1324.2,817.3 1329.8,816.3C1336.6,814.9 1336.1,795.4 1342.2,795.6C1348.5,795.7 1348.0,815.9 1354.6,816.9C1360.4,817.7 1359.8,801.6 1367.0,799.2C1372.2,797.4 1372.5,805.6 1379.4,808.5C1384.9,810.7 1385.6,808.8 1391.8,809.4C1398.0,809.9 1398.2,811.5 1404.2,810.6C1410.6,809.5 1410.8,804.6 1416.6,805.5C1423.1,806.4 1426.4,819.1 1429.0,814.2C1438.8,794.7 1435.0,757.4 1441.4,756.6C1447.4,755.9 1443.7,790.8 1453.8,811.2C1456.1,815.9 1460.8,810.5 1466.1,807.0C1473.2,802.4 1471.8,796.1 1478.5,795.0C1484.2,794.0 1484.9,798.6 1490.9,802.8C1497.3,807.3 1498.2,814.2 1503.3,812.4C1510.6,809.8 1511.9,804.3 1515.7,794.1C1524.3,770.9 1521.9,769.8 1528.1,745.5" fill="none" stroke="#5b8ff9" stroke-width="2" stroke-linejoin="round"/>
<g fill="#fff" stroke="#5b8ff9" stroke-width="1"><circle cx="945.6" cy="805.2" r="2"/><circle cx="958.0" cy="820.4" r="2"/><circle cx="970.4" cy="810.9" r="2"/><circle cx="982.8" cy="822.5" r="2"/><circle cx="995.2" cy="783.3" r="2"/><circle cx="1007.6" cy="780.9" r="2"/><circle cx="1020.0" cy="809.7" r="2"/><circle cx="1032.4" cy="815.7" r="2"/><circle cx="1044.8" cy="757.2" r="2"/><circle cx="1057.1" cy="789.9" r="2"/><circle cx="1069.5" cy="776.4" r="2"/><circle cx="1081.9" cy="775.2" r="2"/><circle cx="1094.3" cy="807.6" r="2"/><circle cx="1106.7" cy="760.8" r="2"/><circle cx="1119.1" cy="801.6" r="2"/><circle cx="1131.5" cy="791.1" r="2"/><circle cx="1143.9" cy="799.2" r="2"/><circle cx="1156.3" cy="790.2" r="2"/><circle cx="1168.7" cy="820.7" r="2"/><circle cx="1181.1" cy="831.2" r="2"/><circle cx="1193.5" cy="833.3" r="2"/><circle cx="1205.9" cy="819.5" r="2"/><circle cx="1218.3" cy="806.4" r="2"/><circle cx="1230.7" cy="799.2" r="2"/><circle cx="1243.1" cy="802.8" r="2"/><circle cx="1255.5" cy="825.8" r="2"/><circle cx="1267.8" cy="810.3" r="2"/><circle cx="1280.2" cy="805.2" r="2"/><circle cx="1292.6" cy="833.0" r="2"/><circle cx="1305.0" cy="829.1" r="2"/><circle cx="1317.4" cy="800.4" r="2"/><circle cx="1329.8" cy="816.3" r="2"/><circle cx="1342.2" cy="795.6" r="2"/><circle cx="1354.6" cy="816.9" r="2"/><circle cx="1367.0" cy="799.2" r="2"/><circle cx="1379.4" cy="808.5" r="2"/><circle cx="1391.8" cy="809.4" r="2"/><circle cx="1404.2" cy="810.6" r="2"/><circle cx="1416.6" cy="805.5" r="2"/><circle cx="1429.0" cy="814.2" r="2"/><circle cx="1441.4" cy="756.6" r="2"/><circle cx="1453.8" cy="811.2" r="2"/><circle cx="1466.1" cy="807.0" r="2"/><circle cx="1478.5" cy="795.0" r="2"/><circle cx="1490.9" cy="802.8" r="2"/><circle cx="1503.3" cy="812.4" r="2"/><circle cx="1515.7" cy="794.1" r="2"/><circle cx="1528.1" cy="745.5" r="2"/></g>
</svg><div class="t" style="right:1503.0px;top:592.9px;font-size:12px;color:#444">200 PiB</div><div class="t" style="right:1503.0px;top:626.7px;font-size:12px;color:#444">150 PiB</div><div class="t" style="right:1503.0px;top:660.4px;font-size:12px;color:#444">100 PiB</div><div class="t" style="right:1503.0px;top:694.2px;font-size:12px;color:#444">50 PiB</div><div class="t" style="right:1503.0px;top:728.0px;font-size:12px;color:#444">0 PiB</div><div class="t" style="right:1503.0px;top:761.8px;font-size:12px;color:#444">-50 PiB</div><div class="t" style="right:1503.0px;top:795.5px;font-size:12px;color:#444">-100 PiB</div><div class="t" style="right:1503.0px;top:829.3px;font-size:12px;color:#444">-150 PiB</div><div class="t " style="left:742.4px;top:583.4px;font-size:12px;color:#444;">18 EiB</div><div class="t " style="left:742.4px;top:624.3px;font-size:12px;color:#444;">15 EiB</div><div class="t " style="left:742.4px;top:665.3px;font-size:12px;color:#444;">12 EiB</div><div class="t " style="left:742.4px;top:706.2px;font-size:12px;color:#444;">9 EiB</div><div class="t " style="left:742.4px;top:747.1px;font-size:12px;color:#444;">6 EiB</div><div class="t " style="left:742.4px;top:788.0px;font-size:12px;color:#444;">3 EiB</div><div class="t " style="left:742.4px;top:829.0px;font-size:12px;color:#444;">0 EiB</div><div class="t" style="left:92.2px;width:80px;text-align:center;top:847.3px;font-size:12px;color:#444">02.25</div><div class="t" style="left:133.0px;width:80px;text-align:center;top:847.3px;font-size:12px;color:#444">02.27</div><div class="t" style="left:173.8px;width:80px;text-align:center;top:847.3px;font-size:12px;color:#444">03.01</div><div class="t" style="left:214.6px;width:80px;text-align:center;top:847.3px;font-size:12px;color:#444">03.03</div><div class="t" style="left:255.4px;width:80px;text-align:center;top:847.3px;font-size:12px;color:#444">03.05</div><div class="t" style="left:296.2px;width:80px;text-align:center;top:847.3px;font-size:12px;color:#444">03.07</div><div class="t" style="left:337.0px;width:80px;text-align:center;top:847.3px;font-size:12px;color:#444">03.09</div><div class="t" style="left:377.8px;width:80px;text-align:center;top:847.3px;font-size:12px;color:#444">03.11</div><div class="t" style="left:418.6px;width:80px;text-align:center;top:847.3px;font-size:12px;color:#444">03.13</div><div class="t" style="left:459.4px;width:80px;text-align:center;top:847.3px;font-size:12px;color:#444">03.15</div><div class="t" style="left:500.2px;width:80px;text-align:center;top:847.3px;font-size:12px;color:#444">03.17</div><div class="t" style="left:541.0px;width:80px;text-align:center;top:847.3px;font-size:12px;color:#444">03.19</div><div class="t" style="left:581.8px;width:80px;text-align:center;top:847.3px;font-size:12px;color:#444">03.21</div><div class="t" style="left:622.6px;width:80px;text-align:center;top:847.3px;font-size:12px;color:#444">03.23</div><div class="t" style="left:663.4px;width:80px;text-align:center;top:847.3px;font-size:12px;color:#444">03.25</div><div class="t" style="right:685.7px;top:582.8px;font-size:12px;color:#444">0.60 nanoFIL</div><div class="t" style="right:685.7px;top:625.4px;font-size:12px;color:#444">0.50 nanoFIL</div><div class="t" style="right:685.7px;top:668.1px;font-size:12px;color:#444">0.40 nanoFIL</div><div class="t" style="right:685.7px;top:710.8px;font-size:12px;color:#444">0.30 nanoFIL</div><div class="t" style="right:685.7px;top:753.4px;font-size:12px;color:#444">0.20 nanoFIL</div><div class="t" style="right:685.7px;top:796.0px;font-size:12px;color:#444">0.10 nanoFIL</div><div class="t" style="right:685.7px;top:838.7px;font-size:12px;color:#444">0</div><div class="t " style="left:1542.6px;top:583.3px;font-size:12px;color:#444;">0.7 FIL/T</div><div class="t " style="left:1542.6px;top:619.9px;font-size:12px;color:#444;">0.6 FIL/T</div><div class="t " style="left:1542.6px;top:656.4px;font-size:12px;color:#444;">0.5 FIL/T</div><div class="t " style="left:1542.6px;top:693.0px;font-size:12px;color:#444;">0.4 FIL/T</div><div class="t " style="left:1542.6px;top:729.5px;font-size:12px;color:#444;">0.3 FIL/T</div><div class="t " style="left:1542.6px;top:766.1px;font-size:12px;color:#444;">0.2 FIL/T</div><div class="t " style="left:1542.6px;top:802.7px;font-size:12px;color:#444;">0.1 FIL/T</div><div class="t " style="left:1542.6px;top:839.2px;font-size:12px;color:#444;">0 FIL/T</div><div class="t" style="left:905.8px;width:80px;text-align:center;top:853.0px;font-size:12px;color:#444">20:02</div><div class="t" style="left:955.4px;width:80px;text-align:center;top:853.0px;font-size:12px;color:#444">22:02</div><div class="t" style="left:1005.0px;width:80px;text-align:center;top:853.0px;font-size:12px;color:#444">00:02</div><div class="t" style="left:1054.5px;width:80px;text-align:center;top:853.0px;font-size:12px;color:#444">02:02</div><div class="t" style="left:1104.1px;width:80px;text-align:center;top:853.0px;font-size:12px;color:#444">04:02</div><div class="t" style="left:1153.7px;width:80px;text-align:center;top:853.0px;font-size:12px;color:#444">06:02</div><div class="t" style="left:1203.2px;width:80px;text-align:center;top:853.0px;font-size:12px;color:#444">08:02</div><div class="t" style="left:1252.8px;width:80px;text-align:center;top:853.0px;font-size:12px;color:#444">10:02</div><div class="t" style="left:1302.4px;width:80px;text-align:center;top:853.0px;font-size:12px;color:#444">12:02</div><div class="t" style="left:1352.0px;width:80px;text-align:center;top:853.0px;font-size:12px;color:#444">14:02</div><div class="t" style="left:1401.5px;width:80px;text-align:center;top:853.0px;font-size:12px;color:#444">16:02</div><div class="t" style="left:1451.1px;width:80px;text-align:center;top:853.0px;font-size:12px;color:#444">18:02</div><div class="a" style="left:1045.0px;top:560.8px;width:14px;height:14px;border-radius:7px;background:#f6bd16"></div><div class="t " style="left:1069.5px;top:555.6px;font-size:12px;color:#333;">基础手续费</div><div class="a" style="left:1139.9px;top:560.8px;width:14px;height:14px;border-radius:7px;background:#5ad8a6"></div><div class="t " style="left:1164.8px;top:555.6px;font-size:12px;color:#333;">32GiB扇区Gas消耗</div><div class="a" style="left:1277.1px;top:560.8px;width:14px;height:14px;border-radius:7px;background:#5b8ff9"></div><div class="t " style="left:1302.0px;top:555.6px;font-size:12px;color:#333;">64GiB扇区Gas消耗</div>
</body></html>
